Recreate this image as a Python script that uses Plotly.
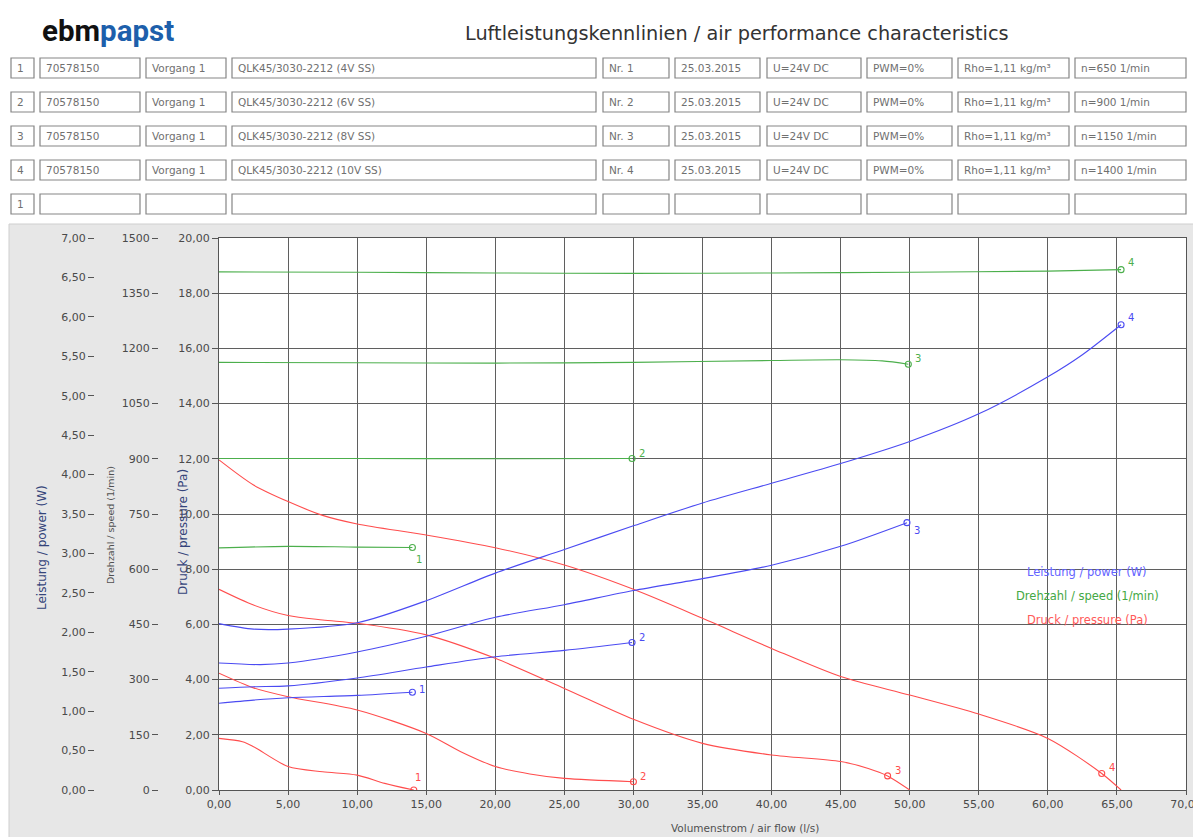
import plotly.graph_objects as go

# ---------------- data ----------------
# power (W) curves, blue
pow1_x = [0, 2.5, 5, 10, 14.0]
pow1_y = [1.10, 1.14, 1.17, 1.20, 1.24]
pow2_x = [0, 2.5, 5, 10, 15, 20, 25, 29.9]
pow2_y = [1.29, 1.31, 1.32, 1.42, 1.56, 1.69, 1.77, 1.87]
pow3_x = [0, 3, 5, 10, 15, 20, 25, 30, 35, 40, 45, 49.8]
pow3_y = [1.61, 1.59, 1.61, 1.75, 1.95, 2.19, 2.35, 2.53, 2.68, 2.85, 3.09, 3.39]
pow4_x = [0, 2.5, 5, 10, 15, 20, 25, 30, 35, 40, 45, 50, 55, 60, 62.5, 65.3]
pow4_y = [2.11, 2.04, 2.04, 2.12, 2.40, 2.75, 3.05, 3.35, 3.64, 3.89, 4.14, 4.42, 4.77, 5.24, 5.52, 5.90]

# speed (1/min) curves, green
spd1_x = [0, 5, 10, 14.0]
spd1_y = [658, 662, 660, 659]
spd2_x = [0, 10, 20, 29.9]
spd2_y = [901, 901, 900, 901]
spd3_x = [0, 10, 20, 30, 40, 45, 48, 49.9]
spd3_y = [1162, 1161, 1160, 1162, 1167, 1169, 1166, 1157]
spd4_x = [0, 10, 20, 30, 40, 50, 60, 65.3]
spd4_y = [1408, 1407, 1405, 1404, 1405, 1407, 1410, 1414]

# pressure (Pa) curves, red
prs1_x = [0, 1.7, 2.5, 5, 7.5, 10, 12, 14.1]
prs1_y = [1.87, 1.75, 1.57, 0.85, 0.66, 0.54, 0.24, 0.0]
prs2_x = [0, 2.5, 5, 10, 15, 17.5, 20, 22.5, 25, 30]
prs2_y = [4.23, 3.70, 3.38, 2.90, 2.05, 1.39, 0.85, 0.58, 0.42, 0.30]
prs3_x = [0, 2.5, 5, 7.5, 10, 15, 20, 25, 30, 35, 40, 45, 47, 48.4, 50.0]
prs3_y = [7.27, 6.70, 6.32, 6.16, 6.04, 5.62, 4.77, 3.68, 2.56, 1.69, 1.27, 1.03, 0.78, 0.51, 0.0]
prs4_x = [0, 2.5, 5, 7.5, 10, 15, 20, 25, 30, 35, 40, 45, 50, 55, 60, 63.9, 65.3]
prs4_y = [11.96, 11.05, 10.45, 9.95, 9.64, 9.24, 8.78, 8.15, 7.27, 6.22, 5.13, 4.11, 3.44, 2.75, 1.87, 0.60, 0.0]
# pressure marker points
prs_mark_x = [14.1, 30.0, 48.4, 63.9]
prs_mark_y = [0.0, 0.30, 0.51, 0.60]

curve_ids = ["1", "2", "3", "4"]

# axes ticks
flow_ticks = [0, 5, 10, 15, 20, 25, 30, 35, 40, 45, 50, 55, 60, 65, 70]
flow_labels = ["0,00", "5,00", "10,00", "15,00", "20,00", "25,00", "30,00", "35,00",
               "40,00", "45,00", "50,00", "55,00", "60,00", "65,00", "70,00"]
prs_ticks = [0, 2, 4, 6, 8, 10, 12, 14, 16, 18, 20]
prs_labels = ["0,00", "2,00", "4,00", "6,00", "8,00", "10,00", "12,00", "14,00",
              "16,00", "18,00", "20,00"]
pow_ticks = [0, 0.5, 1, 1.5, 2, 2.5, 3, 3.5, 4, 4.5, 5, 5.5, 6, 6.5, 7]
pow_labels = ["0,00", "0,50", "1,00", "1,50", "2,00", "2,50", "3,00", "3,50", "4,00",
              "4,50", "5,00", "5,50", "6,00", "6,50", "7,00"]
spd_ticks = [0, 150, 300, 450, 600, 750, 900, 1050, 1200, 1350, 1500]
spd_labels = ["0", "150", "300", "450", "600", "750", "900", "1050", "1200", "1350", "1500"]

# header table
row_no = ["1", "2", "3", "4", "1"]
article = ["70578150", "70578150", "70578150", "70578150", ""]
process = ["Vorgang 1", "Vorgang 1", "Vorgang 1", "Vorgang 1", ""]
fan_type = ["QLK45/3030-2212 (4V SS)", "QLK45/3030-2212 (6V SS)",
            "QLK45/3030-2212 (8V SS)", "QLK45/3030-2212 (10V SS)", ""]
meas_no = ["Nr. 1", "Nr. 2", "Nr. 3", "Nr. 4", ""]
dates = ["25.03.2015", "25.03.2015", "25.03.2015", "25.03.2015", ""]
voltage = ["U=24V DC", "U=24V DC", "U=24V DC", "U=24V DC", ""]
pwm = ["PWM=0%", "PWM=0%", "PWM=0%", "PWM=0%", ""]
rho = ["Rho=1,11 kg/m³", "Rho=1,11 kg/m³", "Rho=1,11 kg/m³", "Rho=1,11 kg/m³", ""]
speed_nom = ["n=650 1/min", "n=900 1/min", "n=1150 1/min", "n=1400 1/min", ""]

# ---------------- layout geometry ----------------
OFF = 8                      # page body margin of the html page
SCREEN_W, SCREEN_H = 1201, 837
W, H = SCREEN_W - OFF, SCREEN_H - OFF
PLOT_L, PLOT_R, PLOT_T, PLOT_B = 219, 1186, 238, 790   # screen pixels of plot area
ML = 0
MR = W - (PLOT_R - OFF)
MT = PLOT_T - OFF
MB = H - (PLOT_B - OFF)
PW = W - ML - MR
PH = H - MT - MB


def px(x):
    """screen x pixel -> paper fraction"""
    return (x - OFF - ML) / PW


def py(y):
    """screen y pixel -> paper fraction"""
    return (H - MB - (y - OFF)) / PH


FONT = "DejaVu Sans"
BLUE = "#4b4bf2"
GREEN = "#4caf4c"
RED = "#ff4d4d"
TXT = "#4a4a4a"

fig = go.Figure()

line_kw = dict(shape="spline", smoothing=0.8, width=1.1)

pow_sets = [(pow1_x, pow1_y), (pow2_x, pow2_y), (pow3_x, pow3_y), (pow4_x, pow4_y)]
spd_sets = [(spd1_x, spd1_y), (spd2_x, spd2_y), (spd3_x, spd3_y), (spd4_x, spd4_y)]
prs_sets = [(prs1_x, prs1_y), (prs2_x, prs2_y), (prs3_x, prs3_y), (prs4_x, prs4_y)]

for xs, ys in prs_sets:
    fig.add_trace(go.Scatter(x=xs, y=ys, mode="lines", line=dict(color=RED, **line_kw),
                             yaxis="y", hoverinfo="skip", showlegend=False))
for xs, ys in spd_sets:
    fig.add_trace(go.Scatter(x=xs, y=ys, mode="lines", line=dict(color=GREEN, **line_kw),
                             yaxis="y3", hoverinfo="skip", showlegend=False))
for xs, ys in pow_sets:
    fig.add_trace(go.Scatter(x=xs, y=ys, mode="lines", line=dict(color=BLUE, **line_kw),
                             yaxis="y2", hoverinfo="skip", showlegend=False))

mk = dict(symbol="circle-open", size=6, line=dict(width=1.1))
fig.add_trace(go.Scatter(x=prs_mark_x, y=prs_mark_y, mode="markers",
                         marker=dict(color=RED, **mk), yaxis="y", hoverinfo="skip", showlegend=False))
fig.add_trace(go.Scatter(x=[s[0][-1] for s in spd_sets], y=[s[1][-1] for s in spd_sets],
                         mode="markers", marker=dict(color=GREEN, **mk), yaxis="y3",
                         hoverinfo="skip", showlegend=False))
fig.add_trace(go.Scatter(x=[s[0][-1] for s in pow_sets], y=[s[1][-1] for s in pow_sets],
                         mode="markers", marker=dict(color=BLUE, **mk), yaxis="y2",
                         hoverinfo="skip", showlegend=False))

annotations = []
shapes = []

# curve number labels
pow_shift = [(10, 3), (10, 5), (10, -8), (10, 7)]
spd_shift = [(7, -12), (10, 5), (10, 6), (10, 7)]
prs_shift = [(4, 13), (10, 5), (10, 5), (10, 6)]
for i, (xs, ys) in enumerate(pow_sets):
    annotations.append(dict(x=xs[-1], y=ys[-1], xref="x", yref="y2", text=curve_ids[i],
                            showarrow=False, xshift=pow_shift[i][0], yshift=pow_shift[i][1],
                            font=dict(family=FONT, size=10, color=BLUE)))
for i, (xs, ys) in enumerate(spd_sets):
    annotations.append(dict(x=xs[-1], y=ys[-1], xref="x", yref="y3", text=curve_ids[i],
                            showarrow=False, xshift=spd_shift[i][0], yshift=spd_shift[i][1],
                            font=dict(family=FONT, size=10, color=GREEN)))
for i in range(4):
    annotations.append(dict(x=prs_mark_x[i], y=prs_mark_y[i], xref="x", yref="y", text=curve_ids[i],
                            showarrow=False, xshift=prs_shift[i][0], yshift=prs_shift[i][1],
                            font=dict(family=FONT, size=10, color=RED)))

# in-plot legend texts
leg = [("Leistung / power (W)", "#6464ff", 572),
       ("Drehzahl / speed (1/min)", "#44a844", 596),
       ("Druck / pressure (Pa)", "#ff5a5a", 620)]
for t, c, yy in leg:
    annotations.append(dict(x=px(1087), y=py(yy), xref="paper", yref="paper", text=t,
                            showarrow=False, xanchor="center", yanchor="middle",
                            font=dict(family=FONT, size=11.5, color=c)))

# axis titles
TITLE_C = "#34447a"
rot = dict(xref="paper", yref="paper", textangle=-90, showarrow=False,
           xanchor="center", yanchor="middle")
annotations += [
    dict(x=px(42), y=py(548), text="Leistung / power (W)",
         font=dict(family=FONT, size=12, color=TITLE_C), **rot),
    dict(x=px(110), y=py(525), text="Drehzahl / speed (1/min)",
         font=dict(family=FONT, size=9.5, color="#505050"), **rot),
    dict(x=px(183), y=py(532), text="Druck / pressure (Pa)",
         font=dict(family=FONT, size=12, color=TITLE_C), **rot),
    dict(x=px(745), y=py(828), xref="paper", yref="paper", text="Volumenstrom / air flow (l/s)",
         showarrow=False, xanchor="center", yanchor="middle",
         font=dict(family=FONT, size=10.5, color="#505050")),
]

# header: logo and title
annotations.append(dict(x=px(40), y=py(31), xref="paper", yref="paper", xanchor="left", yanchor="middle",
                        text="<b>ebm</b><b><span style='color:#1d5fab'>papst</span></b>",
                        showarrow=False,
                        font=dict(family="Roboto, sans-serif", size=29.5, color="#111111")))
annotations.append(dict(x=px(737), y=py(33), xref="paper", yref="paper", xanchor="center", yanchor="middle",
                        text="Luftleistungskennlinien / air performance characteristics",
                        showarrow=False, font=dict(family=FONT, size=19.3, color="#333333")))

# header table
col_edges = [(11, 34), (40, 140), (146, 226), (232, 596), (603, 669), (675, 760),
             (767, 861), (867, 952), (958, 1069), (1075, 1186)]
columns = [row_no, article, process, fan_type, meas_no, dates, voltage, pwm, rho, speed_nom]
row_centers = [68, 102, 136, 170, 204]
for r, yc in enumerate(row_centers):
    for (x0, x1), col in zip(col_edges, columns):
        shapes.append(dict(type="rect", xref="paper", yref="paper",
                           x0=px(x0), x1=px(x1), y0=py(yc + 10), y1=py(yc - 10),
                           line=dict(color="#858585", width=1.2), fillcolor="white", layer="below"))
        if col[r]:
            annotations.append(dict(x=px(x0 + 4), y=py(yc), xref="paper", yref="paper",
                                    xanchor="left", yanchor="middle", text=col[r], showarrow=False,
                                    font=dict(family=FONT, size=10.5, color="#707070")))

# gray panel behind chart, white plot area
shapes.insert(0, dict(type="rect", xref="paper", yref="paper", x0=px(9), x1=px(SCREEN_W + 4),
                      y0=py(SCREEN_H + 4), y1=py(224), fillcolor="#e7e7e7",
                      line=dict(color="#cfcfcf", width=1), layer="below"))
shapes.insert(1, dict(type="rect", xref="paper", yref="paper", x0=px(PLOT_L), x1=1, y0=0, y1=1,
                      fillcolor="white", line=dict(width=0), layer="below"))

tickfont = dict(family=FONT, size=11, color=TXT)
GRID = "#5f5f5f"

fig.update_layout(
    width=W, height=H,
    autosize=False,
    margin=dict(l=ML, r=MR, t=MT, b=MB, pad=0),
    paper_bgcolor="white", plot_bgcolor="white",
    showlegend=False,
    xaxis=dict(domain=[px(PLOT_L), 1], range=[0, 70], tickvals=flow_ticks, ticktext=flow_labels,
               showgrid=True, gridcolor=GRID, gridwidth=1.2, zeroline=False,
               showline=True, linecolor="#555555", linewidth=1, mirror=True, automargin=False,
               ticklabeloverflow="allow",
               ticks="outside", ticklen=4, tickcolor="#555555", tickfont=tickfont, fixedrange=True),
    yaxis=dict(range=[0, 20], tickvals=prs_ticks, ticktext=prs_labels, automargin=False,
               showgrid=True, gridcolor=GRID, gridwidth=1.2, zeroline=False,
               showline=True, linecolor="#555555", linewidth=1, mirror=True,
               ticks="outside", ticklen=6, tickcolor="#555555", tickfont=tickfont, fixedrange=True),
    yaxis2=dict(range=[0, 7], tickvals=pow_ticks, ticktext=pow_labels, overlaying="y",
                anchor="free", position=px(94), side="left", showgrid=False, zeroline=False,
                showline=False, ticks="outside", ticklen=6, tickcolor="#555555", automargin=False,
                tickfont=tickfont, fixedrange=True),
    yaxis3=dict(range=[0, 1500], tickvals=spd_ticks, ticktext=spd_labels, overlaying="y",
                anchor="free", position=px(158), side="left", showgrid=False, zeroline=False,
                showline=False, ticks="outside", ticklen=6, tickcolor="#555555", automargin=False,
                tickfont=tickfont, fixedrange=True),
    annotations=annotations,
    shapes=shapes,
)

fig.write_html("out.html")
